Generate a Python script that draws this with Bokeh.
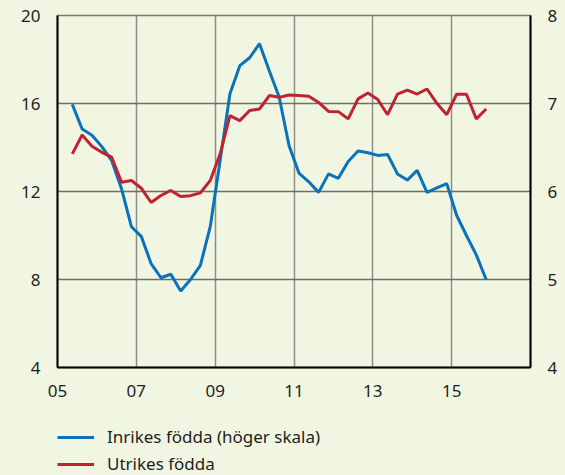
from bokeh.plotting import figure
from bokeh.layouts import column
from bokeh.models import Range1d, LinearAxis, FixedTicker, Legend, LegendItem
from bokeh.embed import file_html
from bokeh.resources import INLINE

# Quarterly periods 2005Q2 .. 2015Q4
start_year, start_q = 2005, 2
n_points = 43
periods = []
y, q = start_year, start_q
for _ in range(n_points):
    periods.append((y, q))
    q += 1
    if q > 4:
        q = 1
        y += 1
x_vals = [yy + (qq - 0.5) / 4 for yy, qq in periods]

# Inrikes födda (höger skala)
inrikes = [6.99, 6.71, 6.64, 6.51, 6.35, 6.03, 5.60, 5.49, 5.18, 5.02,
           5.06, 4.87, 5.00, 5.16, 5.60, 6.35, 7.11, 7.43, 7.52, 7.68,
           7.37, 7.07, 6.52, 6.21, 6.11, 5.99, 6.20, 6.15, 6.34, 6.46,
           6.44, 6.41, 6.42, 6.20, 6.13, 6.24, 5.99, 6.04, 6.09, 5.73,
           5.50, 5.28, 5.00]
# Utrikes födda (vänster skala)
utrikes = [13.71, 14.57, 14.06, 13.78, 13.56, 12.42, 12.50, 12.15, 11.50, 11.82,
           12.05, 11.77, 11.81, 11.94, 12.50, 13.70, 15.45, 15.22, 15.68, 15.75,
           16.36, 16.28, 16.39, 16.36, 16.33, 16.05, 15.64, 15.63, 15.30, 16.21,
           16.48, 16.18, 15.49, 16.43, 16.61, 16.43, 16.66, 16.01, 15.49, 16.42,
           16.42, 15.30, 15.75]

x_ticks = [2005, 2007, 2009, 2011, 2013, 2015]
x_tick_labels = ["05", "07", "09", "11", "13", "15"]
left_ticks = [4, 8, 12, 16, 20]
right_ticks = [4, 5, 6, 7, 8]
series_labels = ["Inrikes födda (höger skala)", "Utrikes födda"]

BG = "#f1f6e2"
BLUE = "#0a72bb"
RED = "#c1222f"
FONT = "Noto Sans"
TXT = "#1e1e1e"
FS = "17px"

p = figure(width=565, height=410, output_backend="svg", toolbar_location=None,
           x_range=Range1d(2005, 2017), y_range=Range1d(4, 20),
           min_border_left=57, min_border_right=35, min_border_top=15, min_border_bottom=43)
p.extra_y_ranges = {"right": Range1d(4, 8)}

p.background_fill_color = BG
p.border_fill_color = BG
p.outline_line_color = "#7a7a70"
p.outline_line_width = 1.5

p.line(x_vals, inrikes, y_range_name="right", line_color=BLUE, line_width=3)
p.line(x_vals, utrikes, line_color=RED, line_width=3)

# axes
p.xaxis.ticker = FixedTicker(ticks=x_ticks)
p.xaxis.major_label_overrides = {t: l for t, l in zip(x_ticks, x_tick_labels)}
p.yaxis.ticker = FixedTicker(ticks=left_ticks)

raxis = LinearAxis(y_range_name="right", ticker=FixedTicker(ticks=right_ticks))
p.add_layout(raxis, "right")

for ax in [p.xaxis[0], p.yaxis[0], raxis]:
    ax.axis_line_color = "black"
    ax.axis_line_width = 2
    ax.major_tick_line_color = None
    ax.minor_tick_line_color = None
    ax.major_tick_out = 0
    ax.major_tick_in = 0
    ax.major_label_text_font = FONT
    ax.major_label_text_font_size = FS
    ax.major_label_text_color = TXT
    ax.major_label_standoff = 17

p.xgrid.ticker = FixedTicker(ticks=x_ticks)
p.xgrid.grid_line_color = "#8e8e84"
p.xgrid.grid_line_width = 1.5
p.ygrid.ticker = FixedTicker(ticks=left_ticks)
p.ygrid.grid_line_color = "#6e6e64"
p.ygrid.grid_line_width = 1.5

# legend strip below the chart (frame aligns with the main plot's frame)
lg = figure(width=565, height=65, output_backend="svg", toolbar_location=None,
            x_range=Range1d(0, 1), y_range=Range1d(0, 1),
            min_border_left=0, min_border_right=0, min_border_top=0, min_border_bottom=0)
lg.background_fill_color = BG
lg.border_fill_color = BG
lg.outline_line_color = None
lg.axis.visible = False
lg.grid.visible = False
# swatch renderers kept outside the visible range; only their legend glyphs show
lb = lg.line([-2, -1], [-2, -1], line_color=BLUE, line_width=3)
lr = lg.line([-2, -1], [-2, -1], line_color=RED, line_width=3)

legend = Legend(items=[LegendItem(label=series_labels[0], renderers=[lb]),
                       LegendItem(label=series_labels[1], renderers=[lr])],
                location=(0, 0), orientation="vertical",
                background_fill_alpha=0, border_line_color=None,
                padding=0, margin=0, spacing=4,
                glyph_width=37, glyph_height=16, label_height=16,
                label_standoff=13, label_text_font=FONT,
                label_text_font_size=FS, label_text_color=TXT)
lg.add_layout(legend, "center")

layout = column(p, lg, spacing=0, styles={"background-color": BG})
html = file_html(layout, INLINE)
html = html.replace("<body>", '<body style="background:%s">' % BG, 1)
open("out.html", "w").write(html)
